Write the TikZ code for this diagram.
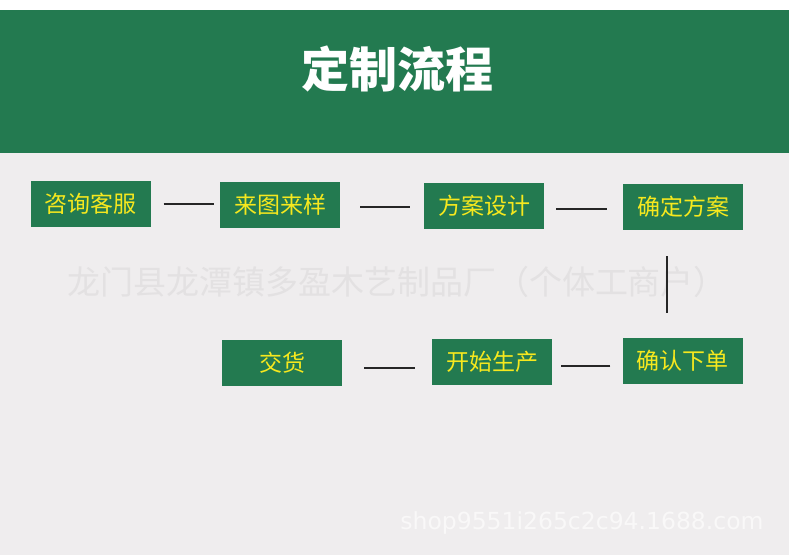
\documentclass[tikz,border=0pt]{standalone}
\usepackage{fontspec}
\newfontfamily\cjk{Noto Sans CJK SC}
\newfontfamily\urlfont{DejaVu Sans}
\usetikzlibrary{positioning,calc}

\definecolor{banner}{RGB}{35,122,80}
\definecolor{paper}{RGB}{239,237,238}
\definecolor{label}{RGB}{246,232,30}
\definecolor{mark}{RGB}{227,225,226}

\tikzset{
  stepbox/.style={fill=banner, text=label, minimum width=120pt, minimum height=46pt,
    inner sep=0pt, font=\cjk\fontsize{23}{23}\selectfont},
  link/.style={draw=black!85, line width=1.6pt}
}

\begin{document}
\begin{tikzpicture}[x=1pt, y=-1pt]

\useasboundingbox (0,0) rectangle (790,555);

% background
\fill[white] (0,0) rectangle (790,555);
\fill[banner] (0,10) rectangle (789,153);
\fill[paper] (0,153) rectangle (789,555);

% title
\node[text=white, font=\cjk\bfseries\fontsize{48}{48}\selectfont] (title) at (397,69) {定制流程};

% watermarks
\node[text=mark, font=\cjk\fontsize{33}{33}\selectfont] (shopname) at (397,282) {龙门县龙潭镇多盈木艺制品厂（个体工商户）};
\node[text=white!60!paper, font=\urlfont\fontsize{23.5}{23.5}\selectfont] (shopurl) at (582,523) {shop9551i265c2c94.1688.com};

% top row
\node[stepbox] (zixun)  at (90.5,204) {咨询客服};
\node[stepbox] (laitu)  at (280,205)  {来图来样};
\node[stepbox] (fangan) at (484,206)  {方案设计};
\node[stepbox] (queding) at (683,207) {确定方案};

% bottom row
\node[stepbox] (xiadan)  at (682.5,361) {确认下单};
\node[stepbox] (shengchan) at (492,362) {开始生产};
\node[stepbox] (jiaohuo) at (282,363)   {交货};

% connectors
\draw[link, shorten <=13pt, shorten >=6pt]  (zixun.east) -- (zixun.east -| laitu.west);
\draw[link, shorten <=20pt, shorten >=14pt] ([yshift=-2pt]laitu.east) -- ([yshift=-2pt]laitu.east -| fangan.west);
\draw[link, shorten <=12pt, shorten >=16pt] ([yshift=-3pt]fangan.east) -- ([yshift=-3pt]fangan.east -| queding.west);
\draw[link, shorten <=26pt, shorten >=25pt] ([xshift=-16pt]queding.south) -- ([xshift=-16pt]queding.south |- xiadan.north);
\draw[link, shorten <=12pt, shorten >=9pt]  ([yshift=-5pt]xiadan.west) -- ([yshift=-5pt]xiadan.west -| shengchan.east);
\draw[link, shorten <=17pt, shorten >=22pt] ([yshift=-6pt]shengchan.west) -- ([yshift=-6pt]shengchan.west -| jiaohuo.east);

\end{tikzpicture}
\end{document}
